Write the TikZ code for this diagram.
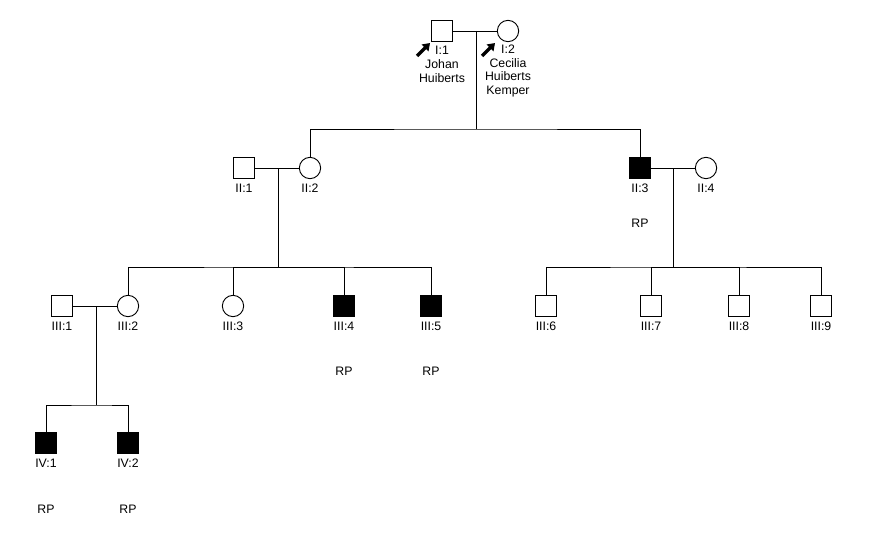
\documentclass[tikz,border=0pt]{standalone}
\usepackage{fontspec}
\setmainfont{Liberation Sans}
\usetikzlibrary{arrows.meta}
\begin{document}
\begin{tikzpicture}[x=0.03cm,y=-0.03cm,line width=0.8pt,
  male/.style={draw,rectangle,minimum size=0.64cm,inner sep=0pt},
  female/.style={draw,circle,minimum size=0.64cm,inner sep=0pt},
  ill/.style={male,fill=black},
  lbl/.style={font=\fontsize{10.5}{11.8}\selectfont,align=center,inner sep=0pt},
  proband/.style={line width=3pt,-{Triangle[length=6pt,width=8pt]}}]
  \useasboundingbox (0,0) rectangle (879,537);
  \node[male](I1) at (442,31){};
  \node[female](I2) at (508,31){};
  \node[male](II1) at (244,168){};
  \node[female](II2) at (310,168){};
  \node[ill](II3) at (640,168){};
  \node[female](II4) at (706,168){};
  \node[male](III1) at (62,306){};
  \node[female](III2) at (128,306){};
  \node[female](III3) at (233,306){};
  \node[ill](III4) at (344,306){};
  \node[ill](III5) at (431,306){};
  \node[male](III6) at (546,306){};
  \node[male](III7) at (651,306){};
  \node[male](III8) at (739,306){};
  \node[male](III9) at (821,306){};
  \node[ill](IV1) at (46,443){};
  \node[ill](IV2) at (128,443){};
  \coordinate(m1) at (476,31);
  \coordinate(s1) at (476,129);
  \coordinate(m2) at (278,168);
  \coordinate(s2) at (278,267);
  \coordinate(m3) at (673,168);
  \coordinate(s3) at (673,267);
  \coordinate(m4) at (96,306);
  \coordinate(s4) at (96,405);
  \draw(I1)--(I2)(II1)--(II2)(II3)--(II4)(III1)--(III2);
  \draw(m1)--(s1)(m2)--(s2)(m3)--(s3)(m4)--(s4);
  \draw(II2)|-(s1)-|(II3);
  \draw(III2)|-(s2)-|(III5)(s2)-|(III3)(s2)-|(III4);
  \draw(III6)|-(s3)-|(III9)(s3)-|(III7)(s3)-|(III8);
  \draw(IV1)|-(s4)-|(IV2);
  % probands
  \coordinate(a1) at (417,56);
  \coordinate(b1) at (430,43);
  \coordinate(a2) at (482,56);
  \coordinate(b2) at (495,43);
  \draw[proband](a1)--(b1);
  \draw[proband](a2)--(b2);
  % labels
  \node[lbl](tI1) at (442,64.5){I:1\\Johan\\Huiberts};
  \node[lbl](tI2) at (508,71){I:2\\Cecilia\\Huiberts\\Kemper};
  \node[lbl](tII1) at (244,188){II:1};
  \node[lbl](tII2) at (310,188){II:2};
  \node[lbl](tII3) at (640,188){II:3};
  \node[lbl](tII4) at (706,188){II:4};
  \node[lbl](tIII1) at (62,326){III:1};
  \node[lbl](tIII2) at (128,326){III:2};
  \node[lbl](tIII3) at (233,326){III:3};
  \node[lbl](tIII4) at (344,326){III:4};
  \node[lbl](tIII5) at (431,326){III:5};
  \node[lbl](tIII6) at (546,326){III:6};
  \node[lbl](tIII7) at (651,326){III:7};
  \node[lbl](tIII8) at (739,326){III:8};
  \node[lbl](tIII9) at (821,326){III:9};
  \node[lbl](tIV1) at (46,463){IV:1};
  \node[lbl](tIV2) at (128,463){IV:2};
  \node[lbl](rII3) at (640,223){RP};
  \node[lbl](rIII4) at (344,371){RP};
  \node[lbl](rIII5) at (431,371){RP};
  \node[lbl](rIV1) at (46,509){RP};
  \node[lbl](rIV2) at (128,509){RP};
\end{tikzpicture}
\end{document}
